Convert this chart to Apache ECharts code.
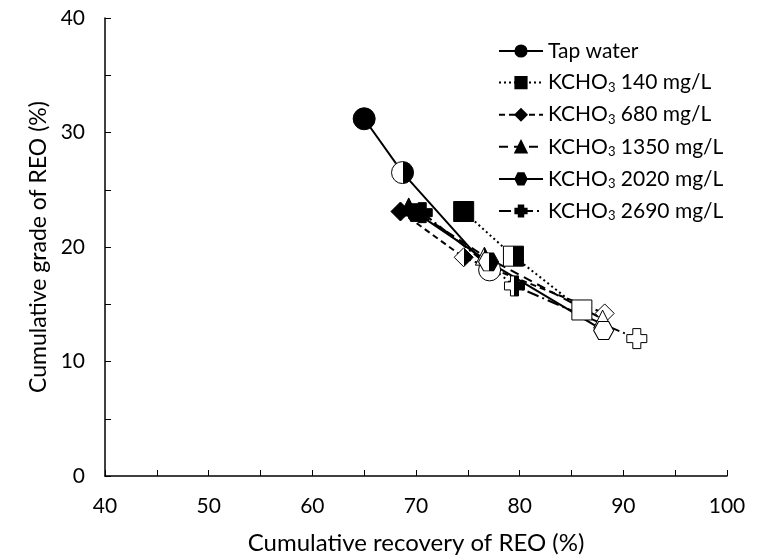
<!DOCTYPE html>
<html>
<head>
<meta charset="utf-8">
<script src="https://cdn.jsdelivr.net/npm/echarts@6/dist/echarts.min.js"></script>
<style>
  html, body { margin: 0; padding: 0; background: #fff; }
  #chart { width: 767px; height: 560px; }
</style>
</head>
<body>
<div id="chart"></div>
<script>
// values: [recovery %, grade %], stage 1..3
const tapX = [65.0, 68.7, 77.1];
const tapY = [31.2, 26.5, 18.0];
const k140X = [74.6, 79.4, 86.0];
const k140Y = [23.1, 19.2, 14.5];
const k680X = [68.5, 74.6, 88.2];
const k680Y = [23.1, 19.1, 14.2];
const k1350X = [69.3, 76.6, 88.0];
const k1350Y = [23.5, 19.2, 13.7];
const k2020X = [70.0, 77.0, 88.1];
const k2020Y = [23.0, 18.7, 12.7];
const k2690X = [70.6, 79.5, 91.3];
const k2690Y = [23.0, 16.6, 12.0];

const names = ['Tap water', 'KCHO3 140 mg/L', 'KCHO3 680 mg/L', 'KCHO3 1350 mg/L', 'KCHO3 2020 mg/L', 'KCHO3 2690 mg/L'];

const FONT = 'Lato';
const hexagon = 'path://M0,8.66 L5,0 L15,0 L20,8.66 L15,17.32 L5,17.32 Z';
const plus = 'path://M3,0 H7 V3 H10 V7 H7 V10 H3 V7 H0 V3 H3 Z';

const half = {
  type: 'linear', x: 0, y: 0, x2: 1, y2: 0,
  colorStops: [
    { offset: 0, color: '#fff' }, { offset: 0.5, color: '#fff' },
    { offset: 0.5, color: '#000' }, { offset: 1, color: '#000' }
  ]
};
const fills = ['#000', half, '#fff'];

function pts(xs, ys) {
  return xs.map((x, i) => ({
    value: [x, ys[i]],
    itemStyle: { color: fills[i], borderColor: '#000', borderWidth: 1 }
  }));
}

function mk(name, xs, ys, symbol, size, lineType) {
  return {
    name: name,
    type: 'line',
    data: pts(xs, ys),
    symbol: symbol,
    symbolSize: size,
    showAllSymbol: true,
    lineStyle: { color: '#000', width: 2, type: lineType },
    itemStyle: { color: '#000', borderColor: '#000', borderWidth: 1 },
    emphasis: { disabled: true },
    animation: false
  };
}

const series = [
  mk(names[0], tapX, tapY, 'circle', 22, 'solid'),
  mk(names[1], k140X, k140Y, 'rect', 20, [2, 3]),
  mk(names[2], k680X, k680Y, 'diamond', 19, [6, 4]),
  mk(names[3], k1350X, k1350Y, 'triangle', 18, [9, 6]),
  mk(names[4], k2020X, k2020Y, hexagon, [20, 18], 'solid'),
  mk(names[5], k2690X, k2690Y, plus, 20, [12, 4, 2, 4])
];

const chart = echarts.init(document.getElementById('chart'));
chart.setOption({
  backgroundColor: '#fff',
  animation: false,
  textStyle: { fontFamily: FONT, color: '#000' },
  grid: { left: 105, right: 40, top: 18, bottom: 82 },
  legend: {
    orient: 'vertical',
    left: 493,
    top: 35,
    itemWidth: 44,
    itemHeight: 14,
    itemGap: 9.6,
    data: names,
    textStyle: {
      fontFamily: FONT, fontSize: 21, color: '#000', lineHeight: 22,
      rich: { sub: { fontFamily: FONT, fontSize: 13, color: '#000', padding: [10, 0, 0, 0] } }
    },
    formatter: function (n) { return n.replace('KCHO3', 'KCHO{sub|3}'); }
  },
  xAxis: {
    type: 'value', min: 40, max: 100, interval: 5,
    name: 'Cumulative recovery of REO (%)',
    nameLocation: 'middle', nameGap: 55,
    nameTextStyle: { fontFamily: FONT, fontSize: 24, color: '#000' },
    axisLine: { show: true, onZero: false, lineStyle: { color: '#000', width: 1.5 } },
    axisTick: { show: true, inside: true, length: 6, lineStyle: { color: '#000' } },
    axisLabel: {
      fontFamily: FONT, fontSize: 21, color: '#000', margin: 20,
      formatter: function (v) { return v % 10 === 0 ? String(v) : ''; }
    },
    splitLine: { show: false }
  },
  yAxis: {
    type: 'value', min: 0, max: 40, interval: 5,
    name: 'Cumulative grade of REO (%)',
    nameLocation: 'middle', nameGap: 54, nameRotate: 90,
    nameTextStyle: { fontFamily: FONT, fontSize: 23, color: '#000' },
    axisLine: { show: true, onZero: false, lineStyle: { color: '#000', width: 1.5 } },
    axisTick: { show: true, inside: true, length: 6, lineStyle: { color: '#000' } },
    axisLabel: {
      fontFamily: FONT, fontSize: 21, color: '#000', margin: 20,
      formatter: function (v) { return v % 10 === 0 ? String(v) : ''; }
    },
    splitLine: { show: false }
  },
  series: series
});
</script>
</body>
</html>
